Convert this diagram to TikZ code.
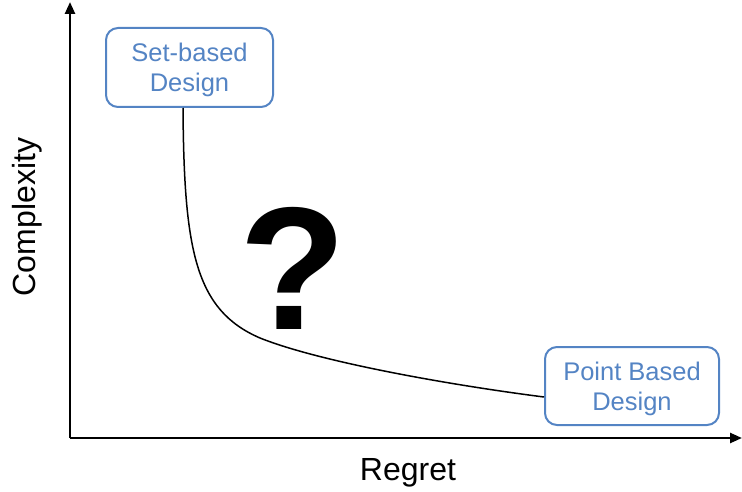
\documentclass[tikz,border=0pt]{standalone}
\usepackage{fontspec}
\setmainfont{Liberation Sans}
\usetikzlibrary{arrows.meta}
\definecolor{boxblue}{RGB}{84,132,196}
\newcommand{\boxlines}[2]{\raisebox{-3.5pt}[\height][\depth]{\begin{tabular}{@{}c@{}}#1\\#2\end{tabular}}}
\tikzset{
  designbox/.style={draw=boxblue, line width=2pt, rounded corners=12pt,
    text=boxblue, align=center, inner sep=0pt,
    font=\fontsize{25.5}{30}\selectfont},
  axis/.style={line width=2.5pt, -{Triangle[width=10pt,length=12pt]}},
  axislabel/.style={font=\fontsize{32}{36}\selectfont},
  tradeoff/.style={line width=1.5pt}
}
\begin{document}
\begin{tikzpicture}[x=1pt,y=-1pt]
  \useasboundingbox (0,0) rectangle (742,492);
  % axes
  \coordinate (origin) at (70,438);
  \coordinate (ytop) at (70,2);
  \coordinate (xend) at (742,438);
  \draw[axis] (origin) -- (ytop);
  \draw[axis] (origin) -- (xend);
  \node[axislabel, rotate=90] (ylab) at (27,217) {Complexity};
  \node[axislabel] (xlab) at (408,473) {Regret};
  % the two design approaches
  \node[designbox, minimum width=167pt, minimum height=79pt] (setbox) at (189.5,67.5) {\boxlines{Set-based}{Design}};
  \node[designbox, minimum width=174pt, minimum height=78pt] (pointbox) at (632,386) {\boxlines{Point Based}{Design}};
  % trade-off curve between them
  \draw[tradeoff] ([xshift=-6.5pt]setbox.south)
    .. controls (184,250) and (195,310) .. (260,338)
    .. controls (320,362) and (450,385) .. ([yshift=-11pt]pointbox.west);
  % open question
  \node[font=\fontsize{175}{175}\selectfont\bfseries, inner sep=0pt] (qmark) at (293,268) {?};
\end{tikzpicture}
\end{document}
